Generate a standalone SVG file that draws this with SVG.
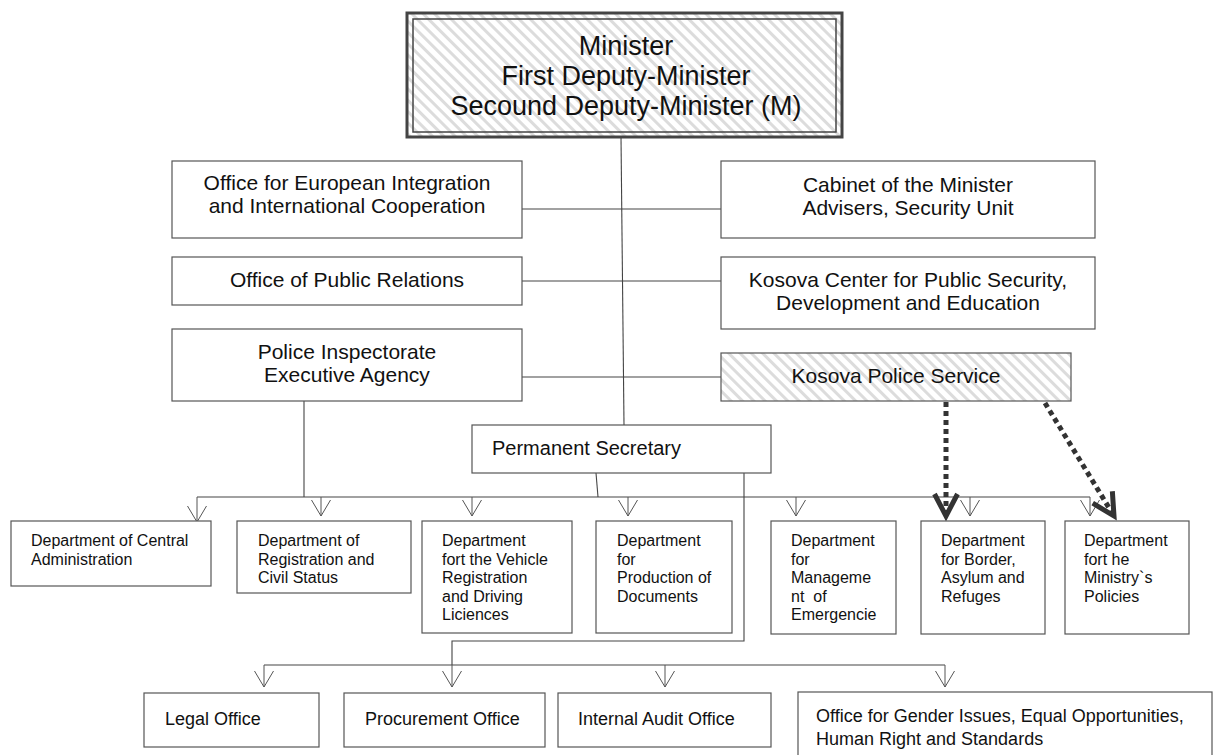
<svg xmlns="http://www.w3.org/2000/svg" width="1215" height="755" viewBox="0 0 1215 755">
  <style>
    .box { fill: #fff; stroke: #555; stroke-width: 1.2; }
    .hatch { fill: url(#stripes); stroke: #555; stroke-width: 1.2; }
    .t { font-family: "Liberation Sans", Arial, sans-serif; fill: #111; }
    .c { text-anchor: middle; }
    .t28 { font-size: 27px; }
    .t21 { font-size: 21px; }
    .t20 { font-size: 20px; }
    .t18 { font-size: 18px; }
    .t16 { font-size: 16px; white-space: pre; }
    .ln { fill: none; stroke: #444; stroke-width: 1.1; }
    .drop { fill: none; stroke: #555; stroke-width: 1; marker-end: url(#openV); }
    .dot { fill: none; stroke: #333; stroke-width: 5; stroke-dasharray: 5 4; marker-end: url(#boldV); }
  </style>
  <defs>
    <pattern id="stripes" patternUnits="userSpaceOnUse" width="8" height="8" patternTransform="rotate(-45)">
      <rect width="8" height="8" fill="#fff"/>
      <rect width="3" height="8" fill="#dcdcdc"/>
    </pattern>
    <marker id="openV" markerUnits="userSpaceOnUse" markerWidth="40" markerHeight="40" refX="0" refY="0" orient="auto" overflow="visible">
      <path d="M-16,-9.5 L0,0 L-16,9.5" fill="none" stroke="#555" stroke-width="1"/>
    </marker>
    <marker id="boldV" markerUnits="userSpaceOnUse" markerWidth="60" markerHeight="60" refX="0" refY="0" orient="auto" overflow="visible">
      <path d="M-22,-11.5 L0,0 L-22,11.5" fill="none" stroke="#333" stroke-width="5" stroke-linejoin="miter"/>
    </marker>
  </defs>

  <rect width="1215" height="755" fill="#fff"/>

  <!-- connectors -->
  <g id="connectors">
    <!-- minister down to permanent secretary -->
    <path class="ln" d="M621,137 L624,425"/>
    <!-- side offices -->
    <path class="ln" d="M522,209 H721"/>
    <path class="ln" d="M522,281 H721"/>
    <path class="ln" d="M522,377 H721"/>
    <!-- police inspectorate down to the department bus -->
    <path class="ln" d="M304,401 V497"/>
    <!-- permanent secretary to department bus -->
    <path class="ln" d="M596,473 L598,497"/>
    <!-- department bus -->
    <path class="ln" d="M197,497 H1090"/>
    <path class="drop" d="M197,497 V522"/>
    <path class="drop" d="M321,497 V516"/>
    <path class="drop" d="M472,497 V516"/>
    <path class="drop" d="M628,497 V516"/>
    <path class="drop" d="M796,497 V516"/>
    <path class="drop" d="M970,497 V516"/>
    <path class="drop" d="M1090,497 V516"/>
    <!-- permanent secretary to offices bus -->
    <path class="ln" d="M744,473 V641 H452 V665"/>
    <path class="ln" d="M264,665 H945"/>
    <path class="drop" d="M264,665 V687"/>
    <path class="drop" d="M452,665 V687"/>
    <path class="drop" d="M665,665 V687"/>
    <path class="drop" d="M945,665 V687"/>
    <!-- police service dotted links -->
    <path class="dot" d="M946,402 V516"/>
    <path class="dot" d="M1045,403 L1114,516"/>
  </g>

  <g id="minister">
    <rect x="407" y="13" width="435" height="124" fill="url(#stripes)" stroke="#444" stroke-width="3"/>
    <rect x="413" y="19" width="423" height="113" fill="none" stroke="#444" stroke-width="1.5"/>
    <text class="t t28 c" x="626" y="55">Minister</text>
    <text class="t t28 c" x="626" y="85">First Deputy-Minister</text>
    <text class="t t28 c" x="626" y="115">Secound Deputy-Minister (M)</text>
  </g>

  <g id="office-eu">
    <rect class="box" x="172" y="161" width="350" height="77"/>
    <text class="t t21 c" x="347" y="190">Office for European Integration</text>
    <text class="t t21 c" x="347" y="213">and International Cooperation</text>
  </g>

  <g id="cabinet">
    <rect class="box" x="721" y="161" width="374" height="77"/>
    <text class="t t21 c" x="908" y="192">Cabinet of the Minister</text>
    <text class="t t21 c" x="908" y="215">Advisers, Security Unit</text>
  </g>

  <g id="office-pr">
    <rect class="box" x="172" y="257" width="350" height="48"/>
    <text class="t t21 c" x="347" y="287">Office of Public Relations</text>
  </g>

  <g id="kosova-center">
    <rect class="box" x="721" y="257" width="374" height="72"/>
    <text class="t t21 c" x="908" y="287">Kosova Center for Public Security,</text>
    <text class="t t21 c" x="908" y="310">Development and Education</text>
  </g>

  <g id="police-inspectorate">
    <rect class="box" x="172" y="329" width="350" height="72"/>
    <text class="t t21 c" x="347" y="359">Police Inspectorate</text>
    <text class="t t21 c" x="347" y="382">Executive Agency</text>
  </g>

  <g id="police-service">
    <rect class="hatch" x="721" y="353" width="350" height="48"/>
    <text class="t t21 c" x="896" y="383">Kosova Police Service</text>
  </g>

  <g id="permanent-secretary">
    <rect class="box" x="472" y="425" width="299" height="48"/>
    <text class="t t20" x="492" y="455">Permanent Secretary</text>
  </g>

  <g id="dept-central">
    <rect class="box" x="11" y="521" width="200" height="65"/>
    <text class="t t16" x="31" y="546">Department of Central</text>
    <text class="t t16" x="31" y="564.5">Administration</text>
  </g>

  <g id="dept-registration">
    <rect class="box" x="237" y="521" width="174" height="72"/>
    <text class="t t16" x="258" y="546">Department of</text>
    <text class="t t16" x="258" y="564.5">Registration and</text>
    <text class="t t16" x="258" y="583">Civil Status</text>
  </g>

  <g id="dept-vehicle">
    <rect class="box" x="422" y="521" width="150" height="112"/>
    <text class="t t16" x="442" y="546">Department</text>
    <text class="t t16" x="442" y="564.5">fort the Vehicle</text>
    <text class="t t16" x="442" y="583">Registration</text>
    <text class="t t16" x="442" y="601.5">and Driving</text>
    <text class="t t16" x="442" y="620">Liciences</text>
  </g>

  <g id="dept-documents">
    <rect class="box" x="596" y="521" width="136" height="112"/>
    <text class="t t16" x="617" y="546">Department</text>
    <text class="t t16" x="617" y="564.5">for</text>
    <text class="t t16" x="617" y="583">Production of</text>
    <text class="t t16" x="617" y="601.5">Documents</text>
  </g>

  <g id="dept-emergencies">
    <rect class="box" x="771" y="521" width="125" height="113"/>
    <text class="t t16" x="791" y="546">Department</text>
    <text class="t t16" x="791" y="564.5">for</text>
    <text class="t t16" x="791" y="583">Manageme</text>
    <text class="t t16" x="791" y="601.5">nt  of</text>
    <text class="t t16" x="791" y="620">Emergencie</text>
  </g>

  <g id="dept-border">
    <rect class="box" x="921" y="521" width="124" height="113"/>
    <text class="t t16" x="941" y="546">Department</text>
    <text class="t t16" x="941" y="564.5">for Border,</text>
    <text class="t t16" x="941" y="583">Asylum and</text>
    <text class="t t16" x="941" y="601.5">Refuges</text>
  </g>

  <g id="dept-policies">
    <rect class="box" x="1065" y="521" width="124" height="113"/>
    <text class="t t16" x="1084" y="546">Department</text>
    <text class="t t16" x="1084" y="564.5">fort he</text>
    <text class="t t16" x="1084" y="583">Ministry`s</text>
    <text class="t t16" x="1084" y="601.5">Policies</text>
  </g>

  <g id="legal-office">
    <rect class="box" x="144" y="693" width="175" height="54"/>
    <text class="t t18" x="165" y="725">Legal Office</text>
  </g>

  <g id="procurement-office">
    <rect class="box" x="344" y="693" width="201" height="54"/>
    <text class="t t18" x="365" y="725">Procurement Office</text>
  </g>

  <g id="audit-office">
    <rect class="box" x="558" y="693" width="213" height="54"/>
    <text class="t t18" x="578" y="725">Internal Audit Office</text>
  </g>

  <g id="gender-office">
    <rect class="box" x="798" y="692" width="414" height="80"/>
    <text class="t t18" x="816" y="722">Office for Gender Issues, Equal Opportunities,</text>
    <text class="t t18" x="816" y="745">Human Right and Standards</text>
  </g>
</svg>
